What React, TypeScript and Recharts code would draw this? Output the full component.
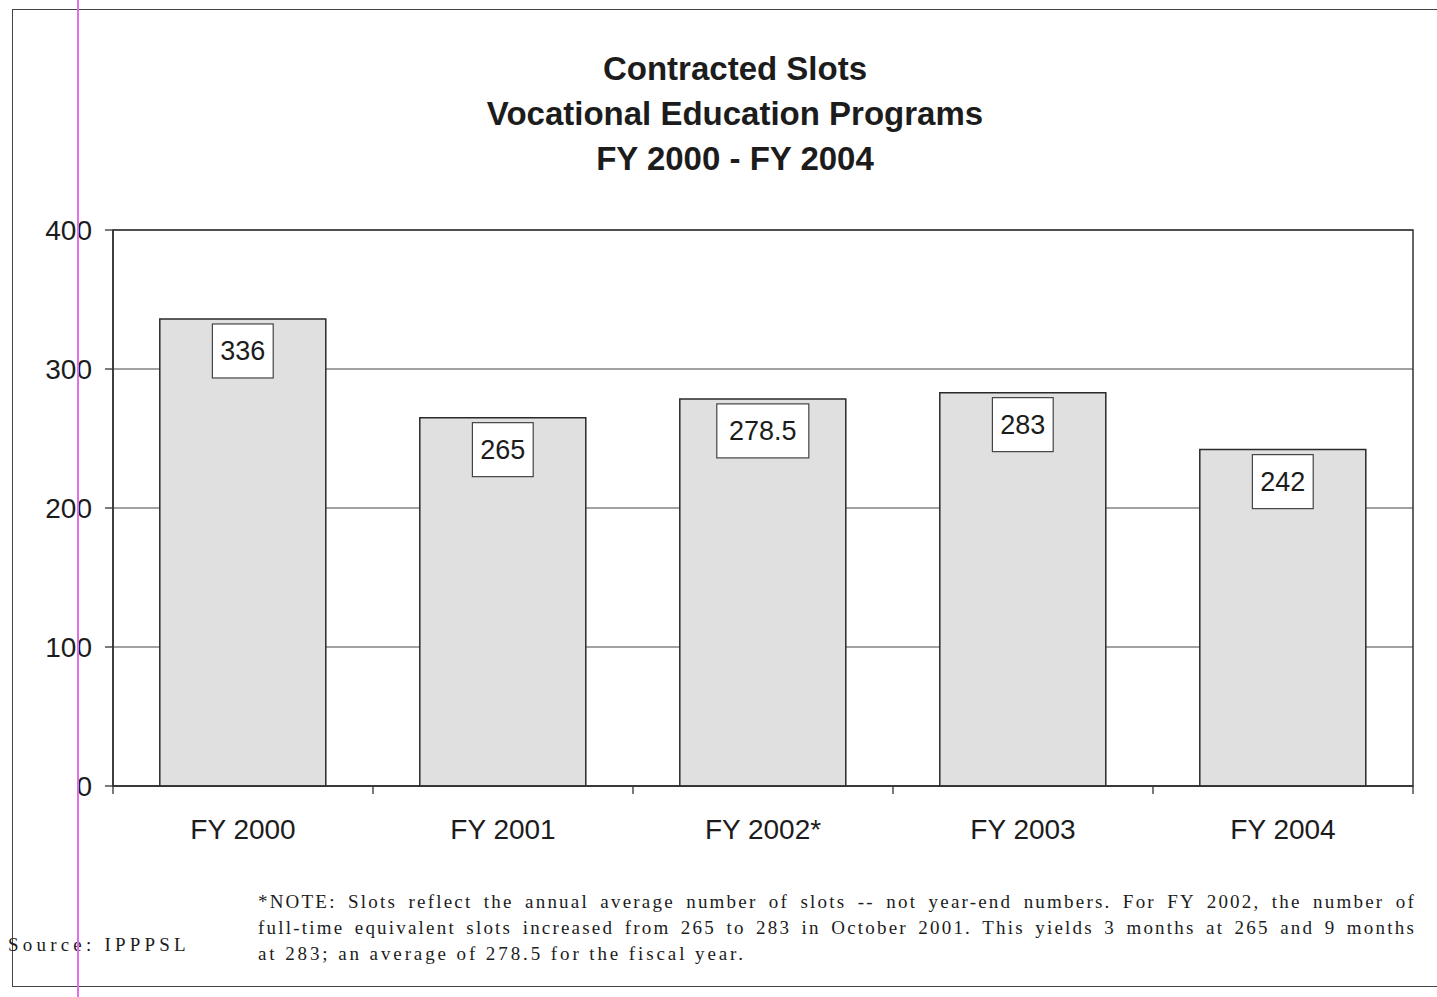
import React from "react";
import {
  BarChart,
  Bar,
  XAxis,
  YAxis,
  CartesianGrid,
  LabelList,
  ReferenceArea,
} from "recharts";

// Contracted vocational education slots by fiscal year
const years = ["FY 2000", "FY 2001", "FY 2002*", "FY 2003", "FY 2004"];
const slots = [336, 265, 278.5, 283, 242];
const yTicks = [0, 100, 200, 300, 400];

const titleLines = [
  "Contracted Slots",
  "Vocational Education Programs",
  "FY 2000 - FY 2004",
];
const noteLines = [
  "*NOTE: Slots reflect the annual average number of slots -- not year-end numbers. For FY 2002, the number of",
  "full-time equivalent slots increased from 265 to 283 in October 2001. This yields 3 months at 265 and 9 months",
  "at 283; an average of 278.5 for the fiscal year.",
];
const sourceText = "Source: IPPPSL";

const data = years.map((year, i) => ({ year, slots: slots[i] }));

const W = 1437;
const H = 997;
const PLOT_LEFT = 113;
const PLOT_RIGHT = 1413;
const PLOT_TOP = 230;
const PLOT_BOTTOM = 786;
const X_AXIS_H = 30;
const BAND = (PLOT_RIGHT - PLOT_LEFT) / years.length;

const SANS = "'Liberation Sans', Arial, sans-serif";
const SERIF = "'Liberation Serif', 'Times New Roman', serif";

function XTick(props: any) {
  const { x, y, payload, index } = props;
  const left = x - BAND / 2;
  const right = x + BAND / 2;
  return (
    <g>
      <line x1={left} y1={y} x2={left} y2={y + 8} stroke="#333" strokeWidth={1.3} />
      {index === years.length - 1 && (
        <line x1={right} y1={y} x2={right} y2={y + 8} stroke="#333" strokeWidth={1.3} />
      )}
      <text
        x={x}
        y={y + 43}
        textAnchor="middle"
        dominantBaseline="central"
        fontFamily={SANS}
        fontSize={28}
        fill="#1c1c1c"
      >
        {payload.value}
      </text>
    </g>
  );
}

function ValueBox(props: any) {
  const { x, y, width, value } = props;
  const label = String(value);
  const boxW = label.length * 15.6 + 14;
  const boxH = 54;
  const cx = x + width / 2;
  const top = y + 5;
  return (
    <g>
      <rect
        x={cx - boxW / 2}
        y={top}
        width={boxW}
        height={boxH}
        fill="#ffffff"
        stroke="#444"
        strokeWidth={1.2}
      />
      <text
        x={cx}
        y={top + boxH / 2}
        textAnchor="middle"
        dominantBaseline="central"
        fontFamily={SANS}
        fontSize={27}
        fill="#1c1c1c"
      >
        {label}
      </text>
    </g>
  );
}

export default function App() {
  return (
    <div
      style={{
        position: "absolute",
        left: 0,
        top: 0,
        width: W,
        height: H,
        background: "#ffffff",
        overflow: "hidden",
      }}
    >
      {/* page frame */}
      <div
        style={{
          position: "absolute",
          left: 12,
          top: 9,
          width: W,
          height: 976,
          border: "1.5px solid #444",
          borderRight: "none",
        }}
      />

      <BarChart
        width={W}
        height={H}
        data={data}
        margin={{
          top: PLOT_TOP,
          right: W - PLOT_RIGHT,
          bottom: H - PLOT_BOTTOM - X_AXIS_H,
          left: 13,
        }}
        barCategoryGap="18%"
      >
        <CartesianGrid vertical={false} stroke="#444" strokeWidth={1.2} />
        <ReferenceArea
          y1={0}
          y2={400}
          fill="none"
          stroke="#333"
          strokeWidth={1.5}
          ifOverflow="visible"
        />
        <XAxis
          dataKey="year"
          height={X_AXIS_H}
          tickLine={false}
          tickSize={0}
          tickMargin={0}
          axisLine={{ stroke: "#333", strokeWidth: 1.5 }}
          tick={<XTick />}
          interval={0}
        />
        <YAxis
          width={100}
          domain={[0, 400]}
          ticks={yTicks}
          tickSize={8}
          tickMargin={13}
          tickLine={{ stroke: "#333", strokeWidth: 1.3 }}
          axisLine={{ stroke: "#333", strokeWidth: 1.5 }}
          tick={{ fontFamily: SANS, fontSize: 28, fill: "#1c1c1c" }}
        />
        <Bar
          dataKey="slots"
          fill="#e0e0e0"
          stroke="#2a2a2a"
          strokeWidth={1.5}
          isAnimationActive={false}
        >
          <LabelList dataKey="slots" content={<ValueBox />} />
        </Bar>
      </BarChart>

      {/* title */}
      <div
        style={{
          position: "absolute",
          left: 435,
          width: 600,
          top: 46,
          textAlign: "center",
          fontFamily: SANS,
          fontWeight: "bold",
          fontSize: 33,
          lineHeight: "45px",
          color: "#1c1c1c",
        }}
      >
        {titleLines.map((t) => (
          <div key={t}>{t}</div>
        ))}
      </div>

      {/* footnote */}
      <div
        style={{
          position: "absolute",
          left: 258,
          top: 889,
          width: 1158,
          fontFamily: SERIF,
          fontSize: 19,
          lineHeight: "26px",
          letterSpacing: "2.2px",
          color: "#1c1c1c",
        }}
      >
        {noteLines.map((t, i) => (
          <div
            key={i}
            style={
              i < noteLines.length - 1
                ? { textAlign: "justify", textAlignLast: "justify", whiteSpace: "nowrap" }
                : { whiteSpace: "nowrap", letterSpacing: "2.9px" }
            }
          >
            {t}
          </div>
        ))}
      </div>

      <div
        style={{
          position: "absolute",
          left: 8,
          top: 934,
          fontFamily: SERIF,
          fontSize: 19,
          letterSpacing: "4.2px",
          color: "#1c1c1c",
          whiteSpace: "nowrap",
        }}
      >
        {sourceText}
      </div>

      {/* pink margin rule */}
      <div
        style={{
          position: "absolute",
          left: 77,
          top: 0,
          width: 2,
          height: H,
          background: "#e070e8",
        }}
      />
    </div>
  );
}
